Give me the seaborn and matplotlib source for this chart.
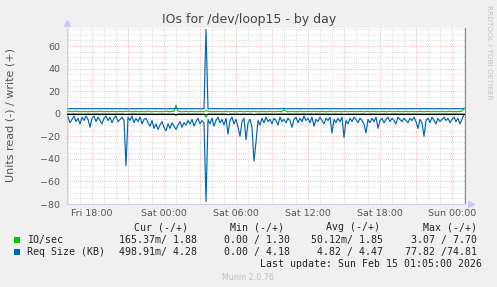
import numpy as np
import pandas as pd
import matplotlib
matplotlib.use("Agg")
import matplotlib.pyplot as plt
import matplotlib.dates as mdates
from matplotlib.ticker import MultipleLocator, FuncFormatter
from matplotlib.patches import Rectangle
import seaborn as sns

# ---------------- data (10-minute samples from Fri 16:00) ----------------
start_time = "2026-02-13 16:00"
sample_step = "10min"

# Req Size (KB) read, magnitudes (drawn below zero)
req_read = [3, 8, 5, 2, 7, 4, 9, 3, 6, 2,
            5, 12, 4, 2, 7, 3, 6, 9, 4, 2,
            6, 3, 8, 4, 2, 7, 5, 3, 6, 46,
            3, 6, 2, 8, 4, 7, 3, 9, 5, 4,
            8, 11, 6, 13, 9, 14, 10, 7, 12, 15,
            9, 13, 8, 11, 14, 10, 7, 12, 8, 10,
            6, 9, 5, 11, 7, 4, 9, 6, 8, 77.82,
            5, 9, 4, 11, 6, 3, 8, 5, 10, 4,
            18, 6, 3, 9, 5, 12, 20, 7, 4, 23,
            8, 5, 12, 42, 25, 6, 10, 4, 8, 3,
            7, 5, 9, 4, 6, 10, 3, 7, 5, 8,
            4, 6, 12, 5, 3, 8, 4, 7, 2, 6,
            4, 8, 3, 11, 5, 7, 3, 6, 9, 4,
            6, 3, 17, 5, 8, 4, 7, 3, 21, 6,
            9, 4, 7, 3, 5, 8, 4, 6, 9, 17,
            5, 8, 4, 7, 3, 13, 6, 4, 8, 5,
            3, 7, 4, 6, 9, 3, 5, 7, 4, 6,
            8, 4, 6, 3, 7, 13, 5, 8, 20, 6,
            4, 8, 3, 6, 9, 4, 7, 5, 3, 6,
            4, 8, 5, 3, 7, 4, 9, 5, 0.5]

# Req Size (KB) write
req_write = [4.5, 4.4, 4.5, 4.5, 4.4, 4.5, 4.5, 4.4, 4.5, 4.5,
             4.4, 4.5, 4.5, 4.4, 4.5, 4.5, 4.4, 4.5, 4.5, 4.4,
             4.5, 4.5, 4.4, 4.5, 4.5, 4.4, 4.5, 4.5, 4.4, 4.5,
             4.5, 4.4, 4.5, 4.5, 4.4, 4.5, 4.5, 4.4, 4.5, 4.5,
             4.4, 4.5, 4.5, 4.4, 4.5, 4.5, 4.4, 4.5, 4.5, 4.4,
             4.5, 4.5, 4.4, 4.5, 4.6, 4.4, 4.5, 4.5, 4.4, 4.5,
             4.5, 4.4, 4.5, 4.5, 4.4, 4.5, 4.5, 4.4, 4.5, 74.81,
             4.5, 4.4, 4.5, 4.5, 4.4, 4.5, 4.5, 4.4, 4.5, 4.5,
             4.4, 4.5, 4.5, 4.4, 4.5, 4.5, 4.4, 4.5, 4.5, 4.4,
             4.5, 4.5, 4.4, 4.5, 4.5, 4.4, 4.5, 4.5, 4.4, 4.5,
             4.5, 4.4, 4.5, 4.5, 4.4, 4.5, 4.5, 4.4, 4.6, 4.5,
             4.4, 4.5, 4.5, 4.4, 4.5, 4.5, 4.4, 4.5, 4.5, 4.4,
             4.5, 4.5, 4.4, 4.5, 4.5, 4.4, 4.5, 4.5, 4.4, 4.5,
             4.5, 4.4, 4.5, 4.5, 4.4, 4.5, 4.5, 4.4, 4.5, 4.5,
             4.4, 4.5, 4.5, 4.4, 4.5, 4.5, 4.4, 4.5, 4.5, 4.4,
             4.5, 4.5, 4.4, 4.5, 4.5, 4.4, 4.5, 4.5, 4.4, 4.5,
             4.5, 4.4, 4.5, 4.5, 4.4, 4.5, 4.5, 4.4, 4.5, 4.5,
             4.4, 4.5, 4.5, 4.4, 4.5, 4.5, 4.4, 4.5, 4.5, 4.4,
             4.5, 4.5, 4.4, 4.5, 4.5, 4.4, 4.5, 4.5, 4.4, 4.5,
             4.5, 4.4, 4.5, 4.5, 4.4, 4.5, 4.5, 4.4, 4.28]

# IO/sec write
io_write = [1.9, 2.3, 1.8, 1.9, 2.4, 1.8, 1.9, 1.8, 2.3, 1.9,
            1.8, 1.9, 2.2, 1.8, 1.9, 1.8, 2.4, 1.9, 1.8, 2.0,
            1.9, 1.8, 2.3, 1.9, 1.8, 1.9, 2.2, 1.8, 1.9, 2.1,
            2.3, 1.9, 1.8, 1.9, 2.2, 1.8, 1.9, 2.0, 1.9, 1.8,
            2.3, 1.9, 1.8, 1.9, 2.2, 1.8, 1.9, 1.9, 1.8, 2.3,
            1.9, 1.8, 2.2, 1.9, 7.7, 2.3, 1.9, 1.8, 1.9, 2.2,
            1.8, 1.9, 2.3, 1.8, 1.9, 1.8, 2.2, 1.9, 1.8, 2.6,
            2.3, 1.8, 1.9, 1.9, 1.8, 2.2, 1.9, 1.8, 1.9, 2.3,
            1.8, 1.9, 2.2, 1.8, 1.9, 1.8, 2.3, 1.9, 1.8, 1.9,
            2.2, 1.8, 1.9, 2.3, 1.8, 1.9, 1.8, 2.2, 1.9, 1.8,
            1.9, 2.3, 1.8, 1.9, 1.8, 2.2, 1.9, 1.8, 3.6, 2.3,
            1.8, 1.9, 2.2, 1.8, 1.9, 1.8, 2.3, 1.9, 1.8, 1.9,
            2.2, 1.8, 1.9, 2.3, 1.8, 1.9, 1.8, 2.2, 1.9, 1.8,
            1.9, 2.3, 1.8, 1.9, 1.8, 2.2, 1.9, 1.8, 1.9, 2.3,
            1.8, 1.9, 2.2, 1.8, 1.9, 1.8, 2.3, 1.9, 1.8, 1.9,
            2.2, 1.8, 1.9, 2.3, 1.8, 1.9, 1.8, 2.2, 1.9, 1.8,
            1.9, 2.3, 1.8, 1.9, 1.8, 2.2, 1.9, 1.8, 1.9, 2.3,
            1.8, 1.9, 2.2, 1.8, 1.9, 1.8, 2.3, 1.9, 1.8, 1.9,
            2.2, 1.8, 1.9, 2.3, 1.8, 1.9, 1.8, 2.2, 1.9, 1.8,
            1.9, 2.3, 1.8, 1.9, 1.8, 2.2, 1.9, 2.4, 5.0]

# IO/sec read, magnitudes (drawn below zero)
io_read = [0.05, 0.02, 0.08, 0.03, 0.05, 0.1, 0.04, 0.2, 0.03, 0.02,
           0.06, 0.2, 0.1, 0.03, 0.05, 0.02, 0.08, 0.04, 0.05, 0.02,
           0.03, 0.06, 0.02, 0.1, 0.04, 0.05, 0.03, 0.12, 0.08, 0.6,
           0.05, 0.1, 0.03, 0.08, 0.04, 0.06, 0.03, 0.1, 0.05, 0.04,
           0.1, 0.15, 0.1, 0.2, 0.1, 0.2, 0.15, 0.1, 0.15, 0.2,
           0.1, 0.15, 0.1, 0.12, 1.5, 0.1, 0.08, 0.12, 0.1, 0.1,
           0.06, 0.1, 0.05, 0.12, 0.08, 0.04, 0.1, 0.06, 0.08, 3.07,
           0.05, 0.1, 0.04, 0.12, 0.06, 0.03, 0.08, 0.05, 0.1, 0.04,
           1.0, 0.06, 0.03, 0.1, 0.05, 0.15, 0.3, 0.07, 0.04, 0.3,
           0.08, 0.05, 0.15, 0.8, 0.3, 0.06, 0.1, 0.04, 0.08, 0.03,
           0.07, 0.05, 0.1, 0.04, 0.06, 0.1, 0.03, 0.07, 0.05, 0.08,
           0.04, 0.06, 0.12, 0.05, 0.03, 0.08, 0.04, 0.07, 0.02, 0.06,
           0.04, 0.08, 0.03, 0.11, 0.05, 0.07, 0.03, 0.06, 0.09, 0.04,
           0.06, 0.03, 0.5, 0.05, 0.08, 0.04, 0.07, 0.03, 0.6, 0.06,
           0.09, 0.04, 0.07, 0.03, 0.05, 0.08, 0.04, 0.06, 0.09, 0.3,
           0.05, 0.08, 0.04, 0.07, 0.03, 0.2, 0.06, 0.04, 0.08, 0.05,
           0.03, 0.07, 0.04, 0.06, 0.09, 0.03, 0.05, 0.07, 0.04, 0.06,
           0.08, 0.04, 0.06, 0.03, 0.07, 0.2, 0.05, 0.08, 0.5, 0.06,
           0.04, 0.08, 0.03, 0.06, 0.09, 0.04, 0.07, 0.05, 0.03, 0.06,
           0.04, 0.08, 0.05, 0.03, 0.07, 0.04, 0.09, 0.05, 0.165]

# legend table text
legend_names = ["IO/sec", "Req Size (KB)"]
legend_colors = ["#00CC00", "#0066B3"]
col_headers = ["Cur (-/+)", "Min (-/+)", "Avg (-/+)", "Max (-/+)"]
row_io = ["165.37m/ 1.88", "0.00 / 1.30", "50.12m/ 1.85", "3.07 / 7.70"]
row_req = ["498.91m/ 4.28", "0.00 / 4.18", "4.82 / 4.47", "77.82 /74.81"]
title = "IOs for /dev/loop15 - by day"
ylabel = "Units read (-) / write (+)"
last_update = "Last update: Sun Feb 15 01:05:00 2026"
footer = "Munin 2.0.76"
side_text = "RRDTOOL / TOBI OETIKER"

# ---------------- figure ----------------
times = pd.date_range(start_time, periods=len(req_read), freq=sample_step)
df = pd.DataFrame({
    "time": times,
    "io_r": -np.array(io_read),
    "io_w": np.array(io_write),
    "req_r": -np.array(req_read),
    "req_w": np.array(req_write),
})

W, H = 497, 287
fig = plt.figure(figsize=(W / 100, H / 100), dpi=100, facecolor="#F0F0F0")
ax = fig.add_axes([67 / W, 1 - 204 / H, 398 / W, 176 / H])
ax.set_facecolor("white")

GREEN, BLUE = legend_colors
LW = 0.85
sns.lineplot(data=df, x="time", y="io_r", color=GREEN, lw=LW, ax=ax, zorder=3)
sns.lineplot(data=df, x="time", y="io_w", color=GREEN, lw=LW, ax=ax, zorder=3)
sns.lineplot(data=df, x="time", y="req_r", color=BLUE, lw=LW, ax=ax, zorder=4)
sns.lineplot(data=df, x="time", y="req_w", color=BLUE, lw=LW, ax=ax, zorder=4)
ax.axhline(0, color="black", lw=0.8, zorder=5)

ax.set_xlim(pd.Timestamp("2026-02-13 15:55"), pd.Timestamp("2026-02-15 01:05"))
ax.set_ylim(-80, 76)
ax.set_xlabel("")
ax.set_ylabel("")

ax.xaxis.set_major_locator(mdates.HourLocator(byhour=range(0, 24, 3)))
ax.xaxis.set_minor_locator(mdates.HourLocator())


def fmt(x, pos):
    d = mdates.num2date(x)
    return d.strftime("%a %H:%M") if d.hour % 6 == 0 else ""


ax.xaxis.set_major_formatter(FuncFormatter(fmt))
ax.yaxis.set_major_locator(MultipleLocator(20))
ax.yaxis.set_minor_locator(MultipleLocator(5))

ax.set_axisbelow(True)
ax.grid(which="minor", color="#CFCFCF", linestyle=(0, (1, 1.6)), lw=0.6)
ax.grid(which="major", color="#E9A3A3", linestyle=(0, (1, 1.6)), lw=0.6)

ax.tick_params(which="both", length=0, labelsize=6.8, labelcolor="#555555")
ax.tick_params(axis="x", pad=3.5)
ax.tick_params(axis="y", pad=5)

ax.spines["top"].set_visible(False)
ax.spines["right"].set_color("#8C8C8C")
ax.spines["left"].set_color("#CCCCEE")
ax.spines["bottom"].set_color("#CCCCEE")
for s in ax.spines.values():
    s.set_linewidth(0.8)

# axis arrows
ax.plot([0], [1 + 5 / 176], marker="^", ms=4.5, color="#C8C8F0",
        transform=ax.transAxes, clip_on=False)
ax.plot([1 + 6 / 398], [0], marker=">", ms=4.5, color="#C8C8F0",
        transform=ax.transAxes, clip_on=False)


def P(x, y):
    return x / W, 1 - y / H


fig.text(*P(249, 19), title, ha="center", va="center", fontsize=9, color="#444444")
fig.text(*P(10.5, 115), ylabel, ha="center", va="center", rotation=90,
         fontsize=8, color="#555555")
fig.text(*P(489, 5), side_text, ha="center", va="top", rotation=270,
         fontsize=5.3, color="#C4C4C4")

mono = "DejaVu Sans Mono"
fs = 7.1
hdr_right = [188, 284, 380, 477]
val_right = [197, 290, 383, 477]
for txt, xr in zip(col_headers, hdr_right):
    fig.text(*P(xr, 227), txt, ha="right", va="center", family=mono, fontsize=fs, color="#222222")
for yy, name, col, row in [(240, legend_names[0], GREEN, row_io),
                           (252, legend_names[1], BLUE, row_req)]:
    fig.patches.append(Rectangle(P(14, yy + 3), 6 / W, 6 / H, transform=fig.transFigure,
                                 facecolor=col, edgecolor="none"))
    fig.text(*P(27, yy), name, ha="left", va="center", family=mono, fontsize=fs, color="#222222")
    for txt, xr in zip(row, val_right):
        fig.text(*P(xr, yy), txt, ha="right", va="center", family=mono, fontsize=fs, color="#222222")
fig.text(*P(482, 264), last_update, ha="right", va="center", family=mono, fontsize=fs, color="#222222")
fig.text(*P(248, 277), footer, ha="center", va="center", fontsize=5.8, color="#C0C0C0")

fig.savefig("out.png", dpi=100, facecolor=fig.get_facecolor())
